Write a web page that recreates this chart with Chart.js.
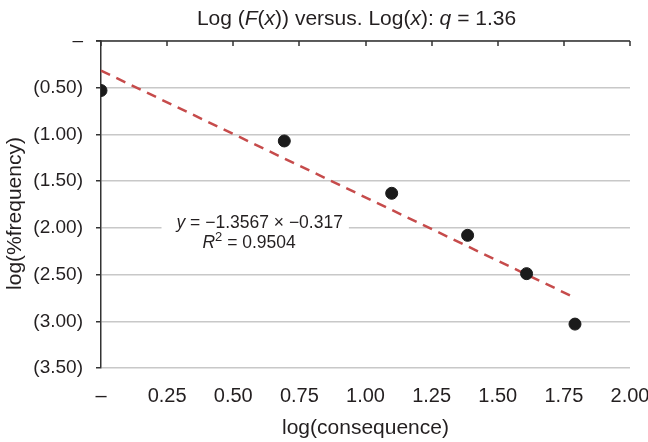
<!DOCTYPE html>
<html>
<head>
<meta charset="utf-8">
<script src="https://cdn.jsdelivr.net/npm/chart.js@4/dist/chart.umd.min.js"></script>
<style>
  html, body { margin: 0; padding: 0; background: #fff; }
  #wrap { width: 648px; height: 442px; }
</style>
</head>
<body>
<div id="wrap"><canvas id="logChart" width="648" height="442"></canvas></div>
<script>
// ln(consequence) and log(%frequency)
const xValues = [0, 0.693, 1.099, 1.386, 1.609, 1.792];
const yValues = [-0.53, -1.07, -1.63, -2.08, -2.49, -3.03];

// fitted trend: y = slope * x + intercept
const slope = -1.3567;
const intercept = -0.317;
const rSquared = 0.9504;
const qValue = 1.36;

const xTicks = [0, 0.25, 0.5, 0.75, 1, 1.25, 1.5, 1.75, 2];
const yTicks = [0, -0.5, -1, -1.5, -2, -2.5, -3, -3.5];

const FONT = '"Liberation Sans", Arial, Helvetica, sans-serif';
const INK = '#231f20';

const points = xValues.map((x, i) => ({ x: x, y: yValues[i] }));
const xEnd = xValues[xValues.length - 1];
const trend = [
  { x: 0, y: intercept },
  { x: xEnd, y: slope * xEnd + intercept }
];

function accounting(v) {
  if (Math.abs(v) < 1e-9) return '\u2013';
  return v < 0 ? '(' + Math.abs(v).toFixed(2) + ')' : v.toFixed(2);
}

// draws a run of [text, italic, superscript] pieces starting at x
function drawRuns(ctx, runs, x, y, size) {
  let cx = x;
  runs.forEach(r => {
    const sz = r[2] ? Math.round(size * 0.72) : size;
    ctx.font = (r[1] ? 'italic ' : '') + sz + 'px ' + FONT;
    ctx.fillText(r[0], cx, r[2] ? y - size * 0.33 : y);
    cx += ctx.measureText(r[0]).width;
  });
}
function runsWidth(ctx, runs, size) {
  let w = 0;
  runs.forEach(r => {
    const sz = r[2] ? Math.round(size * 0.72) : size;
    ctx.font = (r[1] ? 'italic ' : '') + sz + 'px ' + FONT;
    w += ctx.measureText(r[0]).width;
  });
  return w;
}

const decorations = {
  id: 'decorations',
  afterDatasetsDraw(chart) {
    const ctx = chart.ctx;
    const a = chart.chartArea;
    const xs = chart.scales.x;
    const ys = chart.scales.y;
    ctx.save();

    // top axis line with inward tick marks
    ctx.strokeStyle = '#333';
    ctx.lineWidth = 1.5;
    ctx.beginPath();
    ctx.moveTo(a.left - 5, a.top);
    ctx.lineTo(a.right, a.top);
    xTicks.forEach(t => {
      const px = Math.round(xs.getPixelForValue(t));
      ctx.moveTo(px, a.top);
      ctx.lineTo(px, a.top + 5);
    });
    ctx.stroke();

    // title
    ctx.fillStyle = INK;
    ctx.textBaseline = 'middle';
    const title = [
      ['Log (', false], ['F', true], ['(', false], ['x', true],
      [')) versus. Log(', false], ['x', true], ['): ', false],
      ['q', true], [' = ' + qValue.toFixed(2), false]
    ];
    const tw = runsWidth(ctx, title, 21);
    drawRuns(ctx, title, (a.left + a.right) / 2 - 9 - tw / 2, 19, 21);

    // y axis title, a little below the axis middle
    ctx.save();
    ctx.translate(15, (a.top + a.bottom) / 2 + 9);
    ctx.rotate(-Math.PI / 2);
    ctx.textAlign = 'center';
    ctx.font = '21px ' + FONT;
    ctx.fillText('log(%frequency)', 0, 0);
    ctx.restore();

    // equation box
    const eq = [['y', true], [' = \u2212' + Math.abs(slope).toFixed(4) + ' \u00d7 \u2212' + Math.abs(intercept).toFixed(3), false]];
    const r2 = [['R', true], ['2', false, true], [' = ' + rSquared.toFixed(4), false]];
    const ex = xs.getPixelForValue(0.6);
    const ey = ys.getPixelForValue(-1.95);
    const rx = xs.getPixelForValue(0.56);
    const ry = ys.getPixelForValue(-2.165);
    const ew = runsWidth(ctx, eq, 17.5);
    ctx.fillStyle = '#fff';
    ctx.fillRect(ex - ew / 2 - 15, ey - 12, ew + 21, ry - ey + 24);
    ctx.fillStyle = INK;
    drawRuns(ctx, eq, ex - ew / 2, ey, 17.5);
    const rw = runsWidth(ctx, r2, 17.5);
    drawRuns(ctx, r2, rx - rw / 2, ry, 17.5);

    ctx.restore();
  }
};

const config = {
  type: 'scatter',
  data: {
    datasets: [
      {
        label: 'trend',
        data: trend,
        showLine: true,
        borderColor: '#c64b4b',
        borderWidth: 2.5,
        borderDash: [10, 7],
        pointRadius: 0,
        fill: false,
        order: 2
      },
      {
        label: 'log(%frequency)',
        data: points,
        backgroundColor: '#1b1b1b',
        borderColor: '#1b1b1b',
        pointRadius: 6,
        pointHoverRadius: 6,
        order: 1
      }
    ]
  },
  options: {
    responsive: false,
    animation: false,
    layout: { padding: { top: 41, right: 18, left: 0, bottom: 0 } },
    plugins: {
      legend: { display: false },
      title: { display: false },
      tooltip: { enabled: false }
    },
    scales: {
      x: {
        type: 'linear',
        min: 0,
        max: 2,
        afterBuildTicks(scale) { scale.ticks = xTicks.map(v => ({ value: v })); },
        afterFit(scale) {
          scale.height = 74;
          scale.paddingRight = 0;
          scale.paddingLeft = 0;
        },
        grid: { display: false },
        border: { display: false },
        ticks: {
          padding: 8,
          color: INK,
          maxRotation: 0,
          font: { family: FONT, size: 20 },
          callback: v => accounting(v)
        },
        title: {
          display: true,
          text: 'log(consequence)',
          color: INK,
          font: { family: FONT, size: 21 },
          padding: { top: 4, bottom: 1 }
        }
      },
      y: {
        type: 'linear',
        min: -3.5,
        max: 0,
        afterBuildTicks(scale) { scale.ticks = yTicks.map(v => ({ value: v })); },
        afterFit(scale) { scale.width = 101; },
        grid: {
          color: '#c8c8c8',
          lineWidth: 1.5,
          tickColor: '#333',
          tickLength: 5
        },
        border: { display: true, color: '#333', width: 1.5 },
        ticks: {
          padding: 13,
          color: INK,
          font: { family: FONT, size: 19 },
          callback: v => accounting(v)
        },
        title: { display: false }
      }
    }
  },
  plugins: [decorations]
};

const ctx = document.getElementById('logChart').getContext('2d');
const logChart = new Chart(ctx, config);
</script>
</body>
</html>
